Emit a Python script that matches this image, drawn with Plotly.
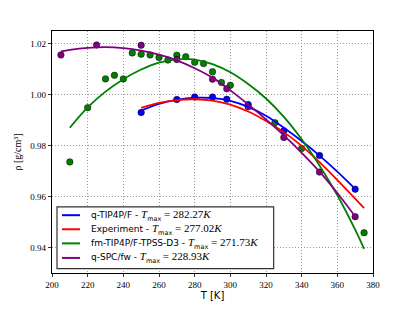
import plotly.graph_objects as go

# ---------------- data ----------------
# simulation points
T_qtip = [250, 270, 280, 290, 298, 310, 330, 350, 370]
rho_qtip = [0.9930, 0.9981, 0.9991, 0.9991, 0.9982, 0.9961, 0.9858, 0.9761, 0.9629]

T_fm = [210, 220, 230, 235, 240, 245, 250, 255, 260, 265, 270, 275, 280, 285,
        290, 295, 300, 325, 340, 375]
rho_fm = [0.9736, 0.9949, 1.0062, 1.0076, 1.0062, 1.0164, 1.0159, 1.0156, 1.0146,
          1.0136, 1.0155, 1.0149, 1.0127, 1.0122, 1.0090, 1.0048, 1.0037, 0.9890,
          0.9789, 0.9458]

T_spc = [205, 225, 250, 270, 290, 298, 310, 330, 350, 370]
rho_spc = [1.0156, 1.0195, 1.0194, 1.0138, 1.0061, 1.0023, 0.9953, 0.9832, 0.9696, 0.9521]

# fitted curves
Tc_qtip = [250, 260, 270, 280, 290, 300, 310, 320, 330, 340, 350, 360, 370]
rc_qtip = [0.9938, 0.9964, 0.9980, 0.9988, 0.9987, 0.9976, 0.9952, 0.9917, 0.9870,
           0.9818, 0.9761, 0.9698, 0.9630]

Tc_exp = [250, 260, 270, 280, 290, 300, 310, 320, 330, 340, 350, 360, 370, 375]
rc_exp = [0.9948, 0.9968, 0.9979, 0.9982, 0.9977, 0.9961, 0.9934, 0.9897, 0.9853,
          0.9799, 0.9735, 0.9665, 0.9592, 0.9555]

Tc_fm = [210, 220, 230, 240, 250, 260, 270, 280, 290, 300, 310, 320, 330, 340, 350,
         360, 370, 375]
rc_fm = [0.9870, 0.9950, 1.0012, 1.0061, 1.0099, 1.0126, 1.0139, 1.0138, 1.0120,
         1.0088, 1.0042, 0.9985, 0.9913, 0.9825, 0.9722, 0.9605, 0.9470, 0.9395]

Tc_spc = [205, 210, 220, 230, 240, 250, 260, 270, 280, 290, 300, 310, 320, 330, 340,
          350, 360, 370]
rc_spc = [1.0170, 1.0176, 1.0184, 1.0187, 1.0183, 1.0173, 1.0157, 1.0135, 1.0104,
          1.0067, 1.0017, 0.9962, 0.9903, 0.9840, 0.9772, 0.9698, 0.9614, 0.9522]

names = ["q-TIP4P/F", "Experiment", "fm-TIP4P/F-TPSS-D3", "q-SPC/fw"]
tmax = ["282.27", "277.02", "271.73", "228.93"]
colors = ["#0000ff", "#ff0000", "#008000", "#800080"]

x_ticks = [200, 220, 240, 260, 280, 300, 320, 340, 360, 380]
y_ticks = [0.94, 0.96, 0.98, 1.00, 1.02]

# ---------------- figure ----------------
W, H = 415, 312
ML, MR, MT, MB = 52, 41.5, 31, 32
PW, PH = W - ML - MR, H - MT - MB


def px_x(p):  # figure px -> paper
    return (p - ML) / PW


def px_y(p):
    return (H - MB - p) / PH


fig = go.Figure()

serif = "font-family:'Liberation Serif',serif;font-size:11px"
subst = "font-family:'DejaVu Sans',sans-serif;font-size:6.5px;baseline-shift:-3px"


def label(name, t):
    return (f"{name} - <span style=\"{serif}\"><i>T</i></span>"
            f"<span style=\"{subst}\">max</span>"
            f"<span style=\"{serif}\"> = {t}<i>K</i></span>")


curves = [(Tc_qtip, rc_qtip), (Tc_exp, rc_exp), (Tc_fm, rc_fm), (Tc_spc, rc_spc)]
points = [(T_qtip, rho_qtip, colors[0]), (T_fm, rho_fm, colors[2]),
          (T_spc, rho_spc, colors[3])]

for (tx, ty, c) in points:
    fig.add_trace(go.Scatter(x=tx, y=ty, mode="markers", showlegend=False,
                             marker=dict(size=6.5, color=c,
                                         line=dict(color="#000000", width=0.5))))

for (tx, ty), n, c in zip(curves, names, colors):
    fig.add_trace(go.Scatter(x=tx, y=ty, mode="lines", name=n, showlegend=False,
                             line=dict(color=c, width=1.8, shape="spline")))

# manual legend (box, line samples, labels)
fig.add_shape(type="rect", xref="paper", yref="paper",
              x0=px_x(57), x1=px_x(274), y0=px_y(275.5), y1=px_y(212),
              line=dict(color="#333333", width=1.2), fillcolor="#ffffff", layer="above")
row_y = [220.5, 235, 249.5, 264.5]
for ry, n, t, c in zip(row_y, names, tmax, colors):
    fig.add_shape(type="line", xref="paper", yref="paper",
                  x0=px_x(62), x1=px_x(80), y0=px_y(ry), y1=px_y(ry),
                  line=dict(color=c, width=2), layer="above")
    fig.add_annotation(xref="paper", yref="paper", x=px_x(89), y=px_y(ry),
                       xanchor="left", yanchor="middle", showarrow=False,
                       text=label(n, t),
                       font=dict(family="DejaVu Sans", size=9, color="#000000"))

axis_common = dict(showline=True, linecolor="#000000", linewidth=1.2, mirror=True,
                   ticks="outside", ticklen=3, tickcolor="#333333",
                   showgrid=True, gridcolor="#999999", griddash="1px,2px", gridwidth=1,
                   zeroline=False,
                   tickfont=dict(family="Liberation Serif", size=9, color="#000000"))

fig.update_xaxes(range=[200, 380], tickvals=x_ticks,
                 ticktext=[str(v) for v in x_ticks],
                 title=dict(text="T [K]", font=dict(family="DejaVu Sans", size=10,
                                                     color="#000000"), standoff=3),
                 **axis_common)
fig.update_yaxes(range=[0.93, 1.025], tickvals=y_ticks,
                 ticktext=[f"{v:.2f}" for v in y_ticks],
                 title=dict(text="ρ [g/cm³]",
                            font=dict(family="Liberation Serif", size=10,
                                      color="#000000"), standoff=6),
                 **axis_common)

fig.update_layout(
    width=W, height=H,
    margin=dict(l=ML, r=MR, t=MT, b=MB),
    paper_bgcolor="#ffffff", plot_bgcolor="#ffffff",
    font=dict(family="DejaVu Sans", size=9, color="#000000"),
    showlegend=False,
)

fig.write_html("out.html",
               config={"displayModeBar": False},
               post_script="document.body.style.margin='0';"
                           "document.body.style.overflow='hidden';")
